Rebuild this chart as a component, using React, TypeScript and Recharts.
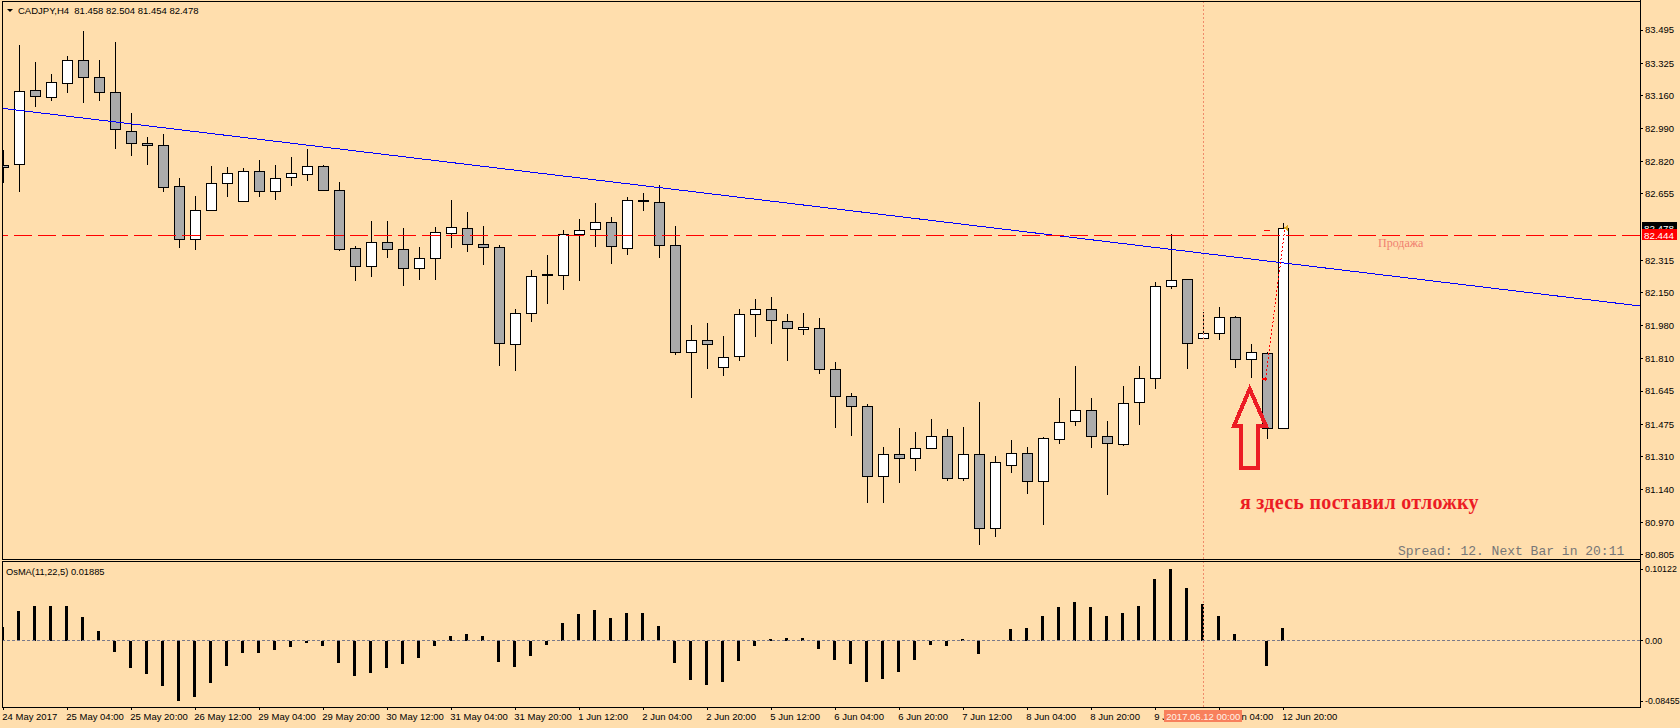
import React from 'react';
import { ComposedChart, Bar, XAxis, YAxis, ReferenceLine, ReferenceDot } from 'recharts';

// ---------- data (CADJPY H4) ----------
const OPEN = [82.803, 82.807, 83.188, 83.153, 83.222, 83.340, 83.253, 83.177, 82.976, 82.914, 82.904, 82.694, 82.423, 82.571, 82.709, 82.617, 82.771, 82.668, 82.740, 82.756, 82.798, 82.674, 82.376, 82.284, 82.407, 82.371, 82.274, 82.325, 82.453, 82.479, 82.397, 82.382, 81.885, 82.043, 82.242, 82.241, 82.448, 82.474, 82.510, 82.376, 82.621, 82.612, 82.392, 81.844, 81.905, 81.767, 81.823, 82.038, 82.064, 82.002, 81.961, 81.967, 81.756, 81.618, 81.567, 81.208, 81.321, 81.300, 81.352, 81.413, 81.198, 81.321, 80.942, 81.265, 81.326, 81.183, 81.398, 81.490, 81.546, 81.413, 81.372, 81.587, 81.710, 82.182, 82.218, 81.915, 81.941, 82.023, 81.808, 81.838, 81.458];
const HIGH = [82.880, 83.418, 83.331, 83.270, 83.362, 83.490, 83.341, 83.434, 83.068, 82.947, 82.962, 82.737, 82.644, 82.798, 82.793, 82.788, 82.829, 82.803, 82.844, 82.885, 82.803, 82.716, 82.387, 82.516, 82.516, 82.479, 82.383, 82.486, 82.624, 82.562, 82.491, 82.393, 82.065, 82.265, 82.341, 82.470, 82.527, 82.609, 82.537, 82.639, 82.660, 82.701, 82.491, 81.983, 81.994, 81.927, 82.065, 82.117, 82.127, 82.040, 82.045, 82.019, 81.792, 81.634, 81.577, 81.358, 81.454, 81.434, 81.500, 81.449, 81.459, 81.587, 81.311, 81.393, 81.357, 81.410, 81.608, 81.772, 81.608, 81.490, 81.669, 81.772, 82.202, 82.452, 82.220, 82.049, 82.074, 82.028, 81.885, 81.847, 82.504];
const LOW = [82.716, 82.672, 83.107, 83.136, 83.179, 83.128, 83.136, 82.892, 82.856, 82.810, 82.672, 82.385, 82.374, 82.571, 82.646, 82.617, 82.646, 82.631, 82.702, 82.728, 82.673, 82.369, 82.216, 82.236, 82.333, 82.190, 82.218, 82.221, 82.385, 82.364, 82.298, 81.780, 81.754, 82.005, 82.098, 82.169, 82.216, 82.390, 82.303, 82.349, 82.574, 82.333, 81.833, 81.616, 81.765, 81.729, 81.806, 81.929, 81.893, 81.806, 81.939, 81.739, 81.462, 81.421, 81.078, 81.078, 81.177, 81.239, 81.352, 81.191, 81.188, 80.860, 80.901, 81.232, 81.121, 80.965, 81.377, 81.470, 81.360, 81.116, 81.367, 81.475, 81.659, 82.172, 81.762, 81.915, 81.910, 81.770, 81.715, 81.406, 81.454];
const CLOSE = [82.793, 83.182, 83.158, 83.227, 83.340, 83.253, 83.176, 82.986, 82.914, 82.904, 82.693, 82.423, 82.571, 82.709, 82.762, 82.771, 82.668, 82.737, 82.762, 82.798, 82.674, 82.374, 82.284, 82.407, 82.371, 82.274, 82.325, 82.458, 82.484, 82.397, 82.382, 81.890, 82.043, 82.233, 82.240, 82.448, 82.469, 82.510, 82.387, 82.622, 82.620, 82.392, 81.844, 81.905, 81.885, 81.818, 82.038, 82.064, 82.008, 81.967, 81.972, 81.756, 81.618, 81.567, 81.208, 81.321, 81.300, 81.352, 81.413, 81.198, 81.321, 80.942, 81.280, 81.326, 81.183, 81.403, 81.485, 81.546, 81.413, 81.377, 81.582, 81.710, 82.182, 82.213, 81.890, 81.941, 82.023, 81.808, 81.844, 81.454, 82.478];
const OSMA = [0.0202, 0.0423, 0.0494, 0.0494, 0.0494, 0.0338, 0.0141, -0.0150, -0.0376, -0.0470, -0.0630, -0.08455, -0.0785, -0.0588, -0.0348, -0.0165, -0.0165, -0.0122, -0.0080, -0.0024, -0.0066, -0.0306, -0.0489, -0.0447, -0.0376, -0.0320, -0.0235, -0.0066, 0.0070, 0.0099, 0.0070, -0.0292, -0.0362, -0.0207, -0.0052, 0.0254, 0.0381, 0.0437, 0.0324, 0.0395, 0.0395, 0.0212, -0.0306, -0.0546, -0.0616, -0.0574, -0.0278, -0.0066, 0.0028, 0.0042, 0.0042, -0.0108, -0.0263, -0.0329, -0.0574, -0.0531, -0.0433, -0.0263, -0.0052, -0.0066, 0.0028, -0.0179, 0.0, 0.0169, 0.0188, 0.0357, 0.0475, 0.0555, 0.0480, 0.0357, 0.0400, 0.0498, 0.0865, 0.10122, 0.0748, 0.0527, 0.0357, 0.0103, 0.0004, -0.0348, 0.01885];

const X_TICKS = [0, 4, 8, 12, 16, 20, 24, 28, 32, 36, 40, 44, 48, 52, 56, 60, 64, 68, 72, 76, 80];
const X_TICK_LABELS = ['24 May 2017', '25 May 04:00', '25 May 20:00', '26 May 12:00', '29 May 04:00', '29 May 20:00', '30 May 12:00', '31 May 04:00', '31 May 20:00', '1 Jun 12:00', '2 Jun 04:00', '2 Jun 20:00', '5 Jun 12:00', '6 Jun 04:00', '6 Jun 20:00', '7 Jun 12:00', '8 Jun 04:00', '8 Jun 20:00', '9 Jun 12:00', '12 Jun 04:00', '12 Jun 20:00'];
const PRICE_TICKS = [83.495, 83.325, 83.160, 82.990, 82.820, 82.655, 82.315, 82.150, 81.980, 81.810, 81.645, 81.475, 81.310, 81.140, 80.970, 80.805];
const OSMA_TICKS = [0.10122, 0, -0.08455];

const TREND = [{ x: -0.081, y: 83.094 }, { x: 102.294, y: 82.081 }];
const SELL_LEVEL = 82.444;
const BID = 82.478;
const CROSS_BAR = 75;
const CROSS_LABEL = '2017.06.12 00:00';
const ORDER_PATH = [{ x: 78.9, y: 81.707 }, { x: 80.1, y: 82.479 }];

// ---------- view settings ----------
const X_DOMAIN: [number, number] = [-0.081, 102.294];
const P_DOMAIN: [number, number] = [80.7845, 83.6385];
const O_DOMAIN: [number, number] = [-0.09283, 0.11252];
const BG = '#FFDEAD';
const FONT = "'Liberation Sans', Arial, sans-serif";
const RED = '#EC1C24';

const candles = OPEN.map((o, i) => ({
  i,
  open: o,
  high: HIGH[i],
  low: LOW[i],
  close: CLOSE[i],
  range: [LOW[i], HIGH[i]],
}));
const osma = OSMA.map((v, i) => ({ i, v }));

const CandleShape = (props: any) => {
  const { x, y, width, height } = props;
  const d = props.payload || props;
  if (x == null || y == null || d == null || d.high == null) return null;
  const top = Math.min(y, y + height);
  const h = Math.abs(height);
  const hi = d.high;
  const lo = d.low;
  const py = (v: number) => (hi === lo ? top : top + ((hi - v) / (hi - lo)) * h);
  const cxi = Math.round(x + width / 2);
  const bull = d.close >= d.open;
  const yTop = Math.round(py(Math.max(d.open, d.close)));
  const yBot = Math.round(py(Math.min(d.open, d.close)));
  const wTop = Math.round(py(hi));
  const wBot = Math.round(py(lo));
  return (
    <g>
      <line x1={cxi + 0.5} x2={cxi + 0.5} y1={wTop} y2={wBot + 1} stroke="#000" strokeWidth={1} />
      {yBot - yTop < 1.5 ? (
        <rect x={cxi - 5} y={yTop - 1} width={11} height={2} fill="#000" />
      ) : (
        <rect
          x={cxi - 4.5}
          y={yTop + 0.5}
          width={10}
          height={yBot - yTop}
          fill={bull ? '#FFFFFF' : '#ABABAB'}
          stroke="#000"
          strokeWidth={1}
        />
      )}
    </g>
  );
};

const XTick = (props: any) => {
  const { x, y, payload } = props;
  const idx = X_TICKS.indexOf(payload.value);
  return (
    <text x={x - 1} y={y + 10} fontSize={9.5} fontFamily={FONT} fill="#000" textAnchor="start">
      {idx >= 0 ? X_TICK_LABELS[idx] : ''}
    </text>
  );
};

const priceBox = (text: string, color: string) => (props: any) => {
  const vb = props.viewBox;
  if (!vb) return null;
  const bx = vb.x + vb.width + 2;
  return (
    <g>
      <rect x={bx} y={vb.y - 6} width={35} height={11} fill={color} />
      <text x={bx + 2} y={vb.y + 3.5} fontSize={9.8} fontFamily={FONT} fill="#FFFFFF">
        {text}
      </text>
    </g>
  );
};

const crossLabel = (props: any) => {
  const vb = props.viewBox;
  if (!vb) return null;
  const cx = vb.x;
  const bottom = vb.y + vb.height;
  return (
    <g>
      <rect x={cx - 39} y={bottom + 3} width={78} height={12} fill="#F8805C" />
      <text x={cx} y={bottom + 12.5} textAnchor="middle" fontSize={9.5} fontFamily={FONT} fill="#FFF3E8">
        {CROSS_LABEL}
      </text>
    </g>
  );
};

const ArrowShape = (p: any) => {
  const { cx, cy } = p;
  if (cx == null) return null;
  const pts = [[0, 0], [-15.7, 37], [-8.2, 37], [-8.2, 79], [8.3, 79], [8.3, 37], [16.3, 37]];
  const d = pts.map((q, k) => `${k ? 'L' : 'M'}${cx + q[0]},${cy + q[1]}`).join(' ') + ' Z';
  return <path d={d} fill="none" stroke={RED} strokeWidth={4} strokeLinejoin="miter" />;
};

const NoteShape = (p: any) => {
  const { cx, cy } = p;
  if (cx == null) return null;
  return (
    <text x={cx} y={cy} dominantBaseline="central" fontSize={20} letterSpacing={0.3} fontWeight="bold" fontFamily="'Liberation Serif', 'Times New Roman', serif" fill={RED}>
      я здесь поставил отложку
    </text>
  );
};

const SellTextShape = (p: any) => {
  const { cx, cy } = p;
  if (cx == null) return null;
  return (
    <text x={cx} y={cy + 11.5} fontSize={12} fontFamily="'Liberation Serif', 'Times New Roman', serif" fill="#F08070">
      Продажа
    </text>
  );
};

const OpenMarkShape = (p: any) => {
  const { cx, cy } = p;
  if (cx == null) return null;
  return <path d={`M${cx - 3},${cy - 1} h3 v-2 l3,3 l-3,3 v-2 h-3 Z`} fill="#FF0000" />;
};

const CloseMarkShape = (p: any) => {
  const { cx, cy } = p;
  if (cx == null) return null;
  return <path d={`M${cx - 2},${cy} L${cx + 2},${cy - 3} L${cx + 2},${cy + 3} Z`} fill="#DAA520" />;
};

export default function App() {
  return (
    <div style={{ position: 'relative', width: 1680, height: 728, background: BG, overflow: 'hidden', fontFamily: FONT }}>
      <style>{`html,body{margin:0;padding:0;background:${BG};} svg line, svg rect, svg path{shape-rendering:crispEdges;}`}</style>

      <div style={{ position: 'absolute', left: 0, top: 0 }}>
        <ComposedChart width={1680} height={560} data={candles} margin={{ top: 2, right: 0, bottom: 1, left: 2 }}>
          <XAxis type="number" dataKey="i" domain={X_DOMAIN} allowDataOverflow hide />
          <YAxis
            orientation="right"
            type="number"
            domain={P_DOMAIN}
            allowDataOverflow
            ticks={PRICE_TICKS}
            interval={0}
            width={40}
            axisLine={false}
            tickLine={{ stroke: '#000' }}
            tickSize={3}
            tickMargin={2}
            tick={{ fontSize: 9.5, fill: '#000', fontFamily: FONT }}
            tickFormatter={(v: number) => v.toFixed(3)}
          />
          <ReferenceLine x={CROSS_BAR} stroke="#F08A6A" strokeDasharray="2 2" />
          <Bar dataKey="range" barSize={11} shape={CandleShape} isAnimationActive={false} />
          <ReferenceLine segment={TREND} stroke="#0000FF" strokeWidth={1} ifOverflow="hidden" />
          <ReferenceLine y={SELL_LEVEL} stroke="#FF0000" strokeDasharray="18 6" />
          <ReferenceLine segment={[{ x: 78.8, y: 82.47 }, { x: 79.2, y: 82.47 }]} stroke="#FF0000" />
          <ReferenceLine segment={ORDER_PATH} stroke="#FF0000" strokeDasharray="2 2" />
          <ReferenceDot x={78.85} y={81.707} r={1} shape={OpenMarkShape} />
          <ReferenceDot x={80.15} y={82.48} r={1} shape={CloseMarkShape} />
          <ReferenceDot x={85.92} y={SELL_LEVEL} r={1} shape={SellTextShape} />
          <ReferenceDot x={77.9} y={81.656} r={1} shape={ArrowShape} />
          <ReferenceDot x={77.29} y={81.078} r={1} shape={NoteShape} />
          <ReferenceLine y={BID} stroke="none" strokeOpacity={0} label={priceBox(BID.toFixed(3), '#000000')} />
          <ReferenceLine y={SELL_LEVEL} stroke="none" strokeOpacity={0} label={priceBox(SELL_LEVEL.toFixed(3), '#FF0000')} />
        </ComposedChart>
      </div>

      <div style={{ position: 'absolute', left: 0, top: 561 }}>
        <ComposedChart width={1680} height={167} data={osma} margin={{ top: 0, right: 0, bottom: 0, left: 2 }}>
          <XAxis
            type="number"
            dataKey="i"
            domain={X_DOMAIN}
            allowDataOverflow
            ticks={X_TICKS}
            interval={0}
            height={21}
            axisLine={false}
            tickLine={{ stroke: '#000' }}
            tickSize={3}
            tickMargin={0}
            tick={XTick}
          />
          <YAxis
            orientation="right"
            type="number"
            domain={O_DOMAIN}
            allowDataOverflow
            ticks={OSMA_TICKS}
            interval={0}
            width={40}
            axisLine={false}
            tickLine={{ stroke: '#000' }}
            tickSize={3}
            tickMargin={2}
            tick={{ fontSize: 8.8, fill: '#000', fontFamily: FONT }}
            tickFormatter={(v: number) => (v === 0 ? '0.00' : v.toFixed(5))}
          />
          <ReferenceLine y={0} stroke="#7A7A8A" strokeDasharray="3 2" />
          <ReferenceLine x={CROSS_BAR} stroke="#F08A6A" strokeDasharray="2 2" />
          <Bar dataKey="v" barSize={3} fill="#000000" isAnimationActive={false} />
        </ComposedChart>
      </div>

      {/* top layer: crosshair time label, drawn above the time axis */}
      <div style={{ position: 'absolute', left: 0, top: 561, pointerEvents: 'none' }}>
        <ComposedChart width={1680} height={167} data={osma} margin={{ top: 0, right: 0, bottom: 0, left: 2 }}>
          <XAxis type="number" dataKey="i" domain={X_DOMAIN} allowDataOverflow height={21} axisLine={false} tickLine={false} tick={false} />
          <YAxis orientation="right" type="number" domain={O_DOMAIN} allowDataOverflow width={40} axisLine={false} tickLine={false} tick={false} />
          <ReferenceLine x={CROSS_BAR} stroke="none" strokeOpacity={0} label={crossLabel} />
        </ComposedChart>
      </div>

      <svg width={1680} height={728} style={{ position: 'absolute', left: 0, top: 0, pointerEvents: 'none' }}>
        <rect x={2.5} y={1.5} width={1638} height={558} fill="none" stroke="#000" />
        <rect x={2.5} y={561.5} width={1638} height={146} fill="none" stroke="#000" />
        <line x1={1640.5} y1={0} x2={1640.5} y2={707.5} stroke="#000" />
        <polygon points="7,9 13,9 10,12" fill="#000" />
        <text x={18} y={14} fontSize={9.5} fontFamily={FONT} fill="#000" style={{ whiteSpace: 'pre' }}>
          {'CADJPY,H4  81.458 82.504 81.454 82.478'}
        </text>
        <text x={6} y={574.5} fontSize={9.3} fontFamily={FONT} fill="#000">
          OsMA(11,22,5) 0.01885
        </text>
        <text x={1398} y={555} fontSize={13} fontFamily="'Liberation Mono', 'DejaVu Sans Mono', monospace" fill="#777777">
          Spread: 12. Next Bar in 20:11
        </text>
      </svg>
    </div>
  );
}
